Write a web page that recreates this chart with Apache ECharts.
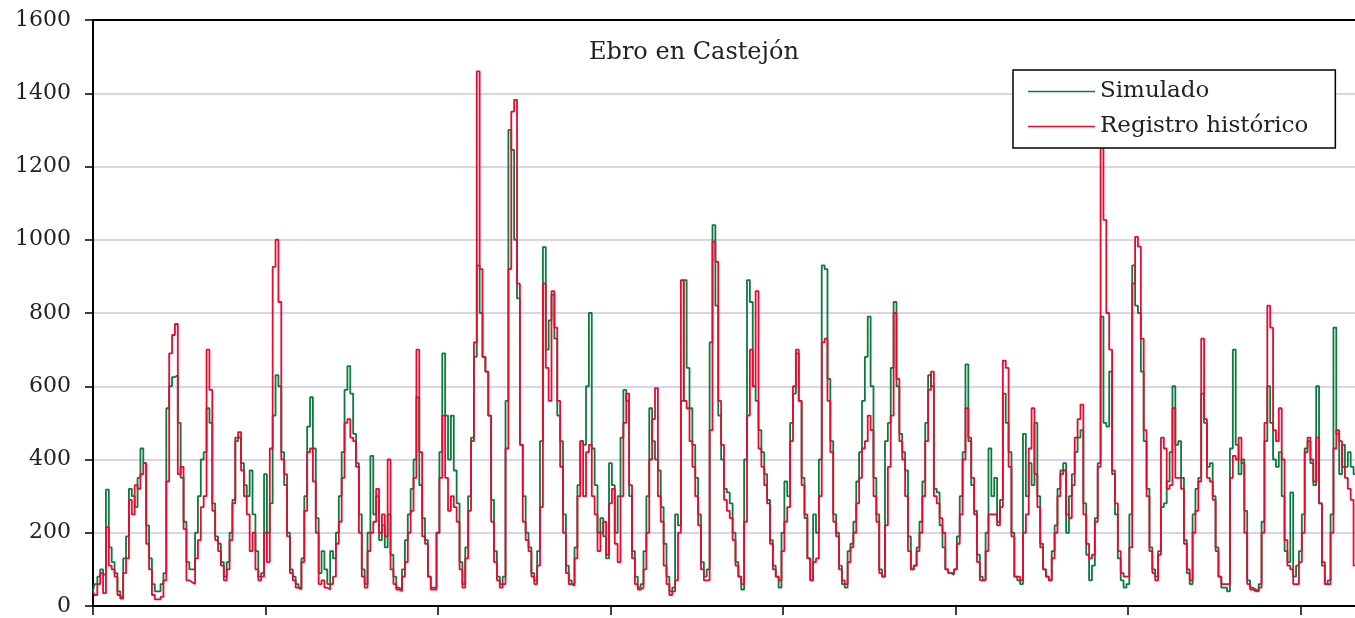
<!DOCTYPE html>
<html>
<head>
<meta charset="utf-8">
<script src="https://cdn.jsdelivr.net/npm/echarts@6/dist/echarts.min.js"></script>
<style>
  html, body { margin: 0; padding: 0; background: #fff; }
  #chart { width: 1355px; height: 618px; }
</style>
</head>
<body>
<div id="chart"></div>
<script>
// Monthly flows (m3/s), Ebro at Castejón
const simulado = [
  40, 60, 80, 100, 86, 318, 160, 120, 90, 40, 25, 130,
  190, 320, 300, 270, 350, 430, 390, 220, 130, 60, 40, 40,
  60, 90, 540, 600, 625, 630, 500, 350, 230, 120, 100, 100,
  200, 300, 400, 420, 540, 500, 280, 190, 170, 120, 80, 120,
  200, 290, 450, 460, 390, 330, 300, 370, 250, 150, 80, 90,
  360, 200, 280, 520, 630, 600, 420, 330, 200, 100, 80, 60,
  50, 130, 300, 490, 570, 430, 240, 90, 150, 100, 60, 150,
  130, 200, 300, 420, 590, 655, 580, 470, 390, 250, 100, 60,
  200, 410, 250, 300, 180, 220, 160, 250, 140, 80, 50, 45,
  100, 180, 250, 320, 400, 570, 330, 240, 180, 80, 50, 50,
  200, 420, 690, 520, 400, 520, 370, 280, 120, 60, 160, 300,
  460, 680, 930, 800, 680, 640, 520, 290, 150, 80, 60, 80,
  560, 1300, 1245, 1000, 840, 440, 300, 200, 160, 90, 70, 150,
  450, 980, 700, 780, 850, 730, 520, 450, 250, 110, 70, 60,
  160, 330, 450, 440, 600, 800, 430, 330, 200, 240, 190, 130,
  390, 330, 200, 300, 460, 590, 560, 300, 150, 80, 50, 60,
  150, 300, 540, 450, 400, 370, 270, 170, 80, 40, 50, 250,
  220, 560, 890, 650, 540, 440, 350, 250, 120, 80, 100, 720,
  1040, 820, 520, 400, 320, 310, 280, 200, 120, 80, 45, 400,
  890, 830, 600, 560, 480, 420, 360, 290, 180, 110, 80, 50,
  200, 340, 300, 500, 580, 690, 560, 350, 240, 130, 70, 250,
  200, 400, 930, 920, 620, 450, 250, 200, 110, 60, 50, 150,
  170, 230, 340, 420, 560, 680, 790, 600, 350, 250, 100, 80,
  450, 500, 650, 830, 600, 470, 420, 370, 190, 100, 110, 160,
  230, 340, 500, 630, 600, 320, 310, 220, 160, 100, 90, 85,
  100, 190, 300, 420, 660, 460, 330, 260, 140, 80, 70, 200,
  430, 300, 350, 230, 290, 580, 500, 420, 200, 80, 70, 60,
  470, 300, 390, 330, 500, 300, 170, 100, 80, 70, 150, 220,
  320, 370, 390, 200, 300, 360, 420, 460, 480, 280, 140, 70,
  110, 240, 390, 790, 500, 490, 640, 360, 250, 130, 70, 50,
  60, 250, 930, 820, 800, 640, 450, 320, 160, 100, 80, 150,
  270, 280, 340, 420, 600, 440, 450, 350, 180, 90, 60, 250,
  320, 350, 580, 500, 380, 390, 300, 160, 80, 50, 50, 40,
  430, 700, 440, 360, 400, 260, 70, 50, 45, 40, 60, 230,
  450, 600, 500, 400, 380, 420, 300, 150, 120, 310, 80, 110,
  150, 250, 430, 450, 390, 330, 600, 280, 110, 60, 70, 250,
  760, 470, 360, 440, 380, 420, 380, 360
];

const registro = [
  40, 30, 60, 90, 35, 215, 110, 100, 80, 30, 20, 90,
  130, 290, 250, 330, 320, 360, 390, 170, 100, 30, 18, 18,
  25, 70, 340, 690, 740, 770, 360, 380, 210, 70, 65, 60,
  130, 180, 270, 300, 700, 590, 260, 180, 150, 110, 70, 100,
  180, 280, 460, 475, 370, 300, 250, 150, 200, 100, 70, 80,
  200, 120, 430, 926, 1000, 830, 400, 360, 190, 90, 70, 50,
  45, 120, 260, 420, 430, 340, 200, 60, 70, 50, 45, 60,
  80, 170, 230, 350, 500, 510, 460, 450, 380, 200, 80, 50,
  150, 200, 230, 320, 200, 250, 190, 400, 100, 60, 45, 40,
  80, 120, 200, 260, 350, 700, 420, 190, 170, 80, 45, 45,
  200, 350, 520, 350, 260, 300, 270, 230, 100, 50, 130, 260,
  450, 720, 1460, 920, 680, 640, 520, 230, 120, 70, 50, 60,
  430, 920, 1350, 1382, 880, 440, 230, 180, 150, 80, 60, 110,
  270, 880, 650, 560, 860, 760, 560, 380, 200, 90, 60, 55,
  130, 300, 450, 300, 420, 440, 300, 250, 150, 200, 230, 140,
  280, 320, 170, 120, 300, 500, 580, 330, 130, 60, 45, 50,
  100, 200, 400, 510, 595, 300, 230, 110, 60, 30, 40, 70,
  200, 890, 560, 540, 450, 380, 300, 220, 100, 70, 70, 480,
  995, 940, 560, 440, 290, 260, 240, 180, 110, 80, 60, 230,
  520, 700, 600, 860, 430, 380, 330, 280, 170, 100, 80, 70,
  150, 230, 270, 450, 600, 700, 560, 330, 250, 130, 70, 120,
  130, 300, 720, 730, 560, 420, 230, 190, 100, 70, 60, 120,
  160, 200, 280, 350, 430, 450, 520, 480, 300, 230, 90, 80,
  220, 380, 520, 800, 620, 450, 400, 300, 150, 100, 110, 150,
  200, 300, 450, 590, 640, 300, 280, 240, 200, 100, 90, 90,
  100, 170, 250, 400, 540, 450, 350, 250, 120, 70, 70, 150,
  250, 250, 250, 220, 270, 670, 650, 380, 190, 80, 80, 70,
  200, 250, 430, 540, 360, 270, 160, 100, 80, 70, 130, 200,
  300, 360, 370, 250, 240, 330, 460, 510, 550, 250, 170, 130,
  140, 230, 380, 1300, 1054, 800, 700, 370, 280, 150, 90, 80,
  80, 160, 880, 1008, 981, 730, 480, 300, 150, 90, 70, 140,
  460, 430, 320, 330, 540, 350, 350, 320, 170, 100, 70, 200,
  260, 340, 730, 510, 350, 340, 290, 150, 80, 60, 60, 60,
  350, 410, 400, 460, 390, 200, 60, 45, 40, 40, 50, 200,
  500, 820, 760, 480, 450, 540, 400, 180, 110, 100, 60, 60,
  120, 200, 420, 460, 400, 340, 460, 280, 120, 60, 60, 200,
  430, 480, 450, 380, 350, 320, 290, 110
];

// one category per month
const meses = simulado.map((_, i) => String(i));

const yTicks = { min: 0, max: 1600, interval: 200 };

const serif = 'DejaVu Serif';

const chart = echarts.init(document.getElementById('chart'), null, { renderer: 'canvas' });

chart.setOption({
  animation: false,
  backgroundColor: '#ffffff',
  title: {
    text: 'Ebro en Castejón',
    left: 584,
    top: 36,
    textStyle: { fontFamily: serif, fontSize: 24, fontWeight: 'normal', color: '#222' }
  },
  legend: {
    left: 1013,
    top: 70,
    z: 100,
    orient: 'vertical',
    padding: [10, 27, 10, 15],
    icon: 'rect',
    itemWidth: 67,
    itemHeight: 1.6,
    itemGap: 12,
    backgroundColor: '#ffffff',
    borderColor: '#000000',
    borderWidth: 1.5,
    borderRadius: 0,
    textStyle: { fontFamily: serif, fontSize: 23, color: '#222' },
    data: ['Simulado', 'Registro histórico']
  },
  grid: { left: 93, right: 0, top: 20, bottom: 12, containLabel: false },
  xAxis: [
    {
      type: 'category',
      data: meses,
      boundaryGap: false,
      axisLine: { show: true, lineStyle: { color: '#000', width: 2 } },
      axisTick: { show: true, interval: 59, length: 9, inside: false, lineStyle: { color: '#000', width: 1.5 } },
      axisLabel: { show: false },
      splitLine: { show: false }
    },
    {
      type: 'category',
      data: meses,
      position: 'top',
      boundaryGap: false,
      axisLine: { show: true, lineStyle: { color: '#000', width: 2 } },
      axisTick: { show: false },
      axisLabel: { show: false },
      splitLine: { show: false }
    }
  ],
  yAxis: {
    type: 'value',
    min: yTicks.min,
    max: yTicks.max,
    interval: yTicks.interval,
    axisLine: { show: true, lineStyle: { color: '#000', width: 2 } },
    axisTick: { show: true, length: 8, lineStyle: { color: '#000', width: 1.5 } },
    axisLabel: { fontFamily: serif, fontSize: 22, color: '#222', margin: 22, formatter: v => String(v) },
    splitLine: { show: true, lineStyle: { color: '#cdc6e8', width: 1.5 } }
  },
  series: [
    {
      name: 'Simulado',
      type: 'line',
      step: 'middle',
      data: simulado,
      symbol: 'none',
      color: '#0b7a3f',
      lineStyle: { color: '#0b7a3f', width: 1.8 },
      z: 2
    },
    {
      name: 'Registro histórico',
      type: 'line',
      step: 'middle',
      data: registro,
      symbol: 'none',
      color: '#e60a30',
      lineStyle: { color: '#e60a30', width: 1.8 },
      z: 3
    }
  ]
});
</script>
</body>
</html>
